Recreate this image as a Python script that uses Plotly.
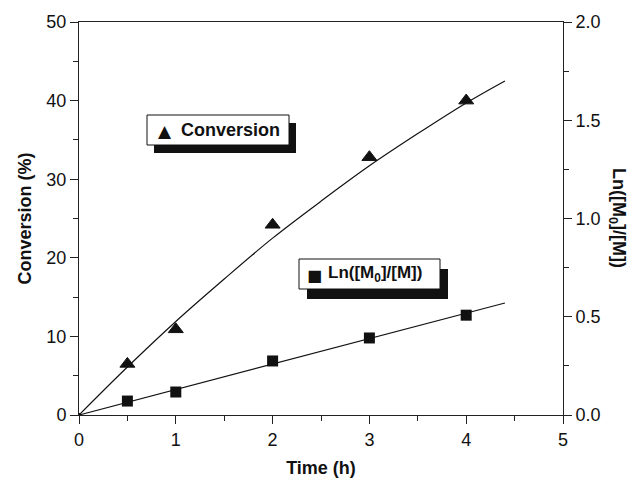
import plotly.graph_objects as go

# data
time_pts = [0.5, 1, 2, 3, 4]
conversion = [6.5, 10.9, 24.2, 32.8, 40.0]
ln_ratio = [0.071, 0.117, 0.275, 0.392, 0.508]
ln_time = [0.5, 1, 2, 3, 4]
origin_time = [0]
origin_value = [0]

fit_time = [0, 0.5, 1, 1.5, 2, 2.5, 3, 3.5, 4, 4.4]
fit_conversion = [0, 6.1, 11.9, 17.3, 22.5, 27.2, 31.7, 35.8, 39.7, 42.5]
fit_ln_time = [0, 4.4]
fit_ln = [0, 0.57]

W, H = 631, 478
L, R, T, B = 79, 563, 22, 415
FONT = "Liberation Sans, Arial, sans-serif"
INK = "#111111"

fig = go.Figure()
fig.add_trace(go.Scatter(x=fit_time, y=fit_conversion, mode="lines", line=dict(color=INK, width=1.2, shape="spline"),
                         showlegend=False, hoverinfo="skip"))
fig.add_trace(go.Scatter(x=fit_ln_time, y=fit_ln, mode="lines", line=dict(color=INK, width=1.2),
                         yaxis="y2", showlegend=False, hoverinfo="skip"))
fig.add_trace(go.Scatter(x=time_pts, y=conversion, mode="markers", opacity=1,
                         marker=dict(symbol="triangle-up", size=13, color=INK, opacity=1,
                                     line=dict(width=1, color=INK)), showlegend=False))
fig.add_trace(go.Scatter(x=origin_time, y=origin_value, mode="markers",
                         marker=dict(symbol="square", size=4, color=INK), showlegend=False))
fig.add_trace(go.Scatter(x=ln_time, y=ln_ratio, mode="markers", yaxis="y2",
                         marker=dict(symbol="square", size=11, color=INK, line=dict(width=0)), showlegend=False))


def tx(x):
    return (x - L) / (R - L)


def ty(y):
    return (B - y) / (B - T)


def box(x0, y0, x1, y1, dx, dy):
    fig.add_shape(type="rect", xref="paper", yref="paper", x0=tx(x0 + dx), x1=tx(x1 + dx), y0=ty(y1 + dy), y1=ty(y0 + dy),
                  fillcolor=INK, line=dict(width=0), layer="above")
    fig.add_shape(type="rect", xref="paper", yref="paper", x0=tx(x0), x1=tx(x1), y0=ty(y1), y1=ty(y0),
                  fillcolor="white", line=dict(color=INK, width=1), layer="above")


axis_common = dict(showline=True, linecolor="#222", linewidth=1, ticks="outside", ticklen=8,
                   tickcolor="#222", showgrid=False, zeroline=False, automargin=False)

fig.update_layout(
    width=W, height=H,
    margin=dict(l=L, r=W - R, t=T, b=H - B),
    paper_bgcolor="white", plot_bgcolor="white",
    font=dict(family=FONT, size=18, color=INK),
    xaxis=dict(range=[0, 5], dtick=1, mirror=True, **axis_common,
               minor=dict(ticks="outside", dtick=0.5, ticklen=5, tickcolor="#222"),
               title=dict(text="<b>Time (h)</b>", font=dict(size=18), standoff=12)),
    yaxis=dict(range=[0, 50], dtick=10, **axis_common,
               minor=dict(ticks="outside", dtick=5, ticklen=5, tickcolor="#222"),
               title=dict(text="<b>Conversion (%)</b>", font=dict(size=18), standoff=10)),
    yaxis2=dict(range=[0, 2.0], dtick=0.5, tickformat=".1f", overlaying="y", side="right", **axis_common,
                minor=dict(ticks="outside", dtick=0.25, ticklen=5, tickcolor="#222")),
)

box(147, 115, 289, 145, 7, 8)
box(299, 259, 440, 289, 8, 10)

# legend keys
fig.add_annotation(xref="paper", yref="paper", x=tx(165), y=ty(131), text="▲",
                   showarrow=False, font=dict(family="DejaVu Sans", size=17, color=INK), xanchor="center", yanchor="middle")
fig.add_annotation(xref="paper", yref="paper", x=tx(314), y=ty(275), text="■",
                   showarrow=False, font=dict(family="DejaVu Sans", size=16, color=INK), xanchor="center", yanchor="middle")
fig.add_annotation(xref="paper", yref="paper", x=tx(179), y=ty(130), text="<b>Conversion</b>",
                   showarrow=False, font=dict(size=18, color=INK), xanchor="left", yanchor="middle")
fig.add_annotation(xref="paper", yref="paper", x=tx(326), y=ty(274), text="<b>Ln([M<sub>0</sub>]/[M])</b>",
                   showarrow=False, font=dict(size=17, color=INK), xanchor="left", yanchor="middle")
fig.add_annotation(xref="paper", yref="paper", x=tx(618), y=ty(218), text="<b>Ln([M<sub>0</sub>]/[M])</b>",
                   textangle=90, showarrow=False, font=dict(size=18, color=INK), xanchor="center", yanchor="middle")

fig.write_html("out.html")
